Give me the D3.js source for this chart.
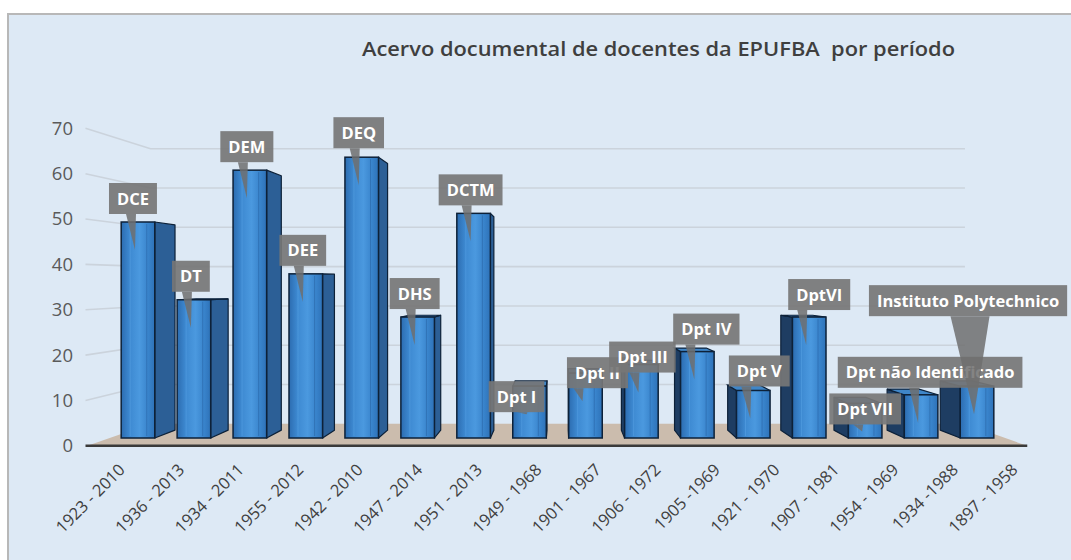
<!DOCTYPE html>
<html>
<head>
<meta charset="utf-8">
<script src="https://cdn.jsdelivr.net/npm/d3@7"></script>
<style>
  body { margin: 0; background: #fff; }
  .container { width: 1071px; height: 560px; }
</style>
</head>
<body>
<div class="container"></div>
<script>
// values
const depts = ['DCE', 'DT', 'DEM', 'DEE', 'DEQ', 'DHS', 'DCTM', 'Dpt I', 'Dpt II', 'Dpt III',
  'Dpt IV', 'Dpt V', 'DptVI', 'Dpt VII', 'Dpt não Identificado', 'Instituto Polytechnico'];
const periods = ['1923 - 2010', '1936 - 2013', '1934 - 2011', '1955 - 2012', '1942 - 2010', '1947 - 2014',
  '1951 - 2013', '1949 - 1968', '1901 - 1967', '1906 - 1972', '1905 -1969', '1921 - 1970',
  '1907 - 1981', '1954 - 1969', '1934 -1988', '1897 - 1958'];
const docs = [50, 32, 62, 38, 65, 28, 52, 12, 15, 17, 20, 11, 28, 8, 10, 12];
const yTicks = [0, 10, 20, 30, 40, 50, 60, 70];
const title = 'Acervo documental de docentes da EPUFBA  por período';

// callout nudges (px) where excel moved the label off its bar
const calloutShift = [[-2,0],[0,0],[0,0],[0,0],[0,-1],[0,0],[0,0],[-10,34],[15,23],[4,16],
  [12,1],[9,4],[13,1],[3,29],[12,1],[-6,-62]];

function draw() {
  const width = 1071, height = 560;
  const vp = {x: 560, y: 281};          // vanishing point of the 3d view
  const sFloor = 1.05, sBack = 0.95, sWall = 0.91;
  const font = '"Open Sans", "Noto Sans", sans-serif';

  const svg = d3.select('.container').append('svg')
    .attr('width', width).attr('height', height)
    .style('font-family', font);

  const defs = svg.append('defs');
  const grad = defs.append('linearGradient').attr('id', 'front').attr('x1', 0).attr('x2', 1).attr('y1', 0).attr('y2', 0);
  [['0', '#2c6cb0'], ['0.25', '#3d89d1'], ['0.55', '#4b99df'], ['0.8', '#3984cc'], ['1', '#2e72b8']]
    .forEach(s => grad.append('stop').attr('offset', s[0]).attr('stop-color', s[1]));

  // panel
  svg.append('rect').attr('x', 8).attr('y', 14).attr('width', width).attr('height', height)
    .attr('fill', '#dde9f5').attr('stroke', '#b8b8b8').attr('stroke-width', 2);

  const x = d3.scaleBand().domain(periods).range([110, 1005]).paddingInner(0.4).paddingOuter(0.2);
  const y = d3.scaleLinear().domain([0, 70]).range([438, 135.6]);

  const P = (px, py, s) => [vp.x + (px - vp.x) * s, vp.y + (py - vp.y) * s];

  // gridlines: left wall diagonal then back wall
  const grid = svg.append('g');
  yTicks.slice(1).forEach(t => {
    const a = P(110, y(t), sFloor), b = P(110, y(t), sWall), c = P(1005, y(t), sWall);
    grid.append('path').attr('d', d3.line()([[a[0] - 2, a[1]], b, c]))
      .attr('fill', 'none').attr('stroke', '#cbd3dc').attr('stroke-width', 1.6);
  });

  // floor
  const f = [P(110, y(0), sFloor), P(1005, y(0), sFloor), P(1005, y(0), sWall), P(110, y(0), sWall)];
  svg.append('path').attr('d', d3.line()(f) + 'Z').attr('fill', '#cbbcad');
  svg.append('line').attr('x1', f[0][0] - 2).attr('x2', f[1][0]).attr('y1', f[0][1]).attr('y2', f[0][1])
    .attr('stroke', '#3a3a3a').attr('stroke-width', 2.5);

  // y axis
  const yFront = d3.scaleLinear().domain([0, 70]).range([P(0, y(0), sFloor)[1], P(0, y(70), sFloor)[1]]);
  const yAxis = svg.append('g').attr('transform', 'translate(73,0)')
    .call(d3.axisLeft(yFront).tickValues(yTicks).tickSize(0).tickPadding(0));
  yAxis.select('.domain').remove();
  yAxis.selectAll('text').attr('font-size', 18.5).attr('fill', '#5a5a5a').style('font-family', font);

  // x axis on floor front edge
  const xFront = x.copy().range([P(110, 0, 1.064)[0], P(1005, 0, 1.064)[0]]);
  const xAxis = svg.append('g').attr('transform', `translate(0,${f[0][1]})`)
    .call(d3.axisBottom(xFront).tickSize(0));
  xAxis.select('.domain').remove();
  xAxis.selectAll('text').attr('font-size', 16.5).attr('fill', '#404040').style('font-family', font)
    .attr('text-anchor', 'end').attr('dy', null).attr('y', 0)
    .attr('transform', 'translate(15,25) rotate(-45)');

  // bars
  const bars = svg.append('g');
  periods.forEach((p, i) => {
    const x0 = x(p), x1 = x(p) + x.bandwidth(), yt = y(docs[i]), yb = y(0);
    const g = bars.append('g');
    const leftOfVp = x1 < vp.x;
    const ex = leftOfVp ? x1 : x0;
    const side = [P(ex, yt, 1), P(ex, yt, sBack), P(ex, yb, sBack), P(ex, yb, 1)];
    g.append('path').attr('d', d3.line()(side) + 'Z')
      .attr('fill', leftOfVp ? '#2c5f96' : '#1e3d62')
      .attr('stroke', '#0d2138').attr('stroke-width', 1.2).attr('stroke-linejoin', 'round');
    if (yt > vp.y) {
      const top = [P(x0, yt, 1), P(x1, yt, 1), P(x1, yt, sBack), P(x0, yt, sBack)];
      g.append('path').attr('d', d3.line()(top) + 'Z')
        .attr('fill', '#3f86c8').attr('stroke', '#0d2138').attr('stroke-width', 1.2);
    }
    g.append('rect').attr('x', x0).attr('y', yt).attr('width', x.bandwidth()).attr('height', yb - yt)
      .attr('fill', 'url(#front)').attr('stroke', '#0d2138').attr('stroke-width', 1.5);
    g.append('line').attr('x1', x0 + 9).attr('x2', x0 + 9).attr('y1', yt + 2).attr('y2', yb - 2)
      .attr('stroke', '#5aa4e6').attr('stroke-opacity', 0.5);
    g.append('line').attr('x1', x1 - 8).attr('x2', x1 - 8).attr('y1', yt + 2).attr('y2', yb - 2)
      .attr('stroke', '#2a66a6').attr('stroke-opacity', 0.6);
  });

  // callouts
  const labels = svg.append('g');
  depts.forEach((d, i) => {
    const cx = x(periods[i]) + x.bandwidth() / 2, yt = y(docs[i]);
    const g = labels.append('g');
    const t = g.append('text').text(d)
      .attr('font-size', 16.5).attr('font-weight', 700).attr('fill', '#fff')
      .attr('text-anchor', 'middle');
    const w = t.node().getComputedTextLength() + 16, h = 31;
    const bx = cx - 3 + calloutShift[i][0], bb = yt - 8 + calloutShift[i][1];
    const tip = [cx - 3, yt + 28];
    const half = 5 + Math.max(0, tip[1] - bb - 40) * 0.25;
    const mid = Math.max(bx - w / 2 + half, Math.min(bx + w / 2 - half, tip[0] - 4));
    g.insert('path', 'text').attr('d', d3.line()([[mid - half, bb], [mid + half, bb], tip]) + 'Z')
      .attr('fill', '#6f6f6f').attr('fill-opacity', 0.85);
    g.insert('rect', 'text').attr('x', bx - w / 2).attr('y', bb - h).attr('width', w).attr('height', h)
      .attr('fill', '#767676').attr('fill-opacity', 0.92);
    t.attr('x', bx).attr('y', bb - 9.5);
  });

  // title
  svg.append('text').attr('x', 362).attr('y', 56).text(title)
    .style('white-space', 'pre')
    .attr('font-size', 20).attr('font-weight', 600).attr('fill', '#3f3f3f')
    .attr('textLength', 593).attr('lengthAdjust', 'spacingAndGlyphs');
}

draw();
</script>
</body>
</html>
